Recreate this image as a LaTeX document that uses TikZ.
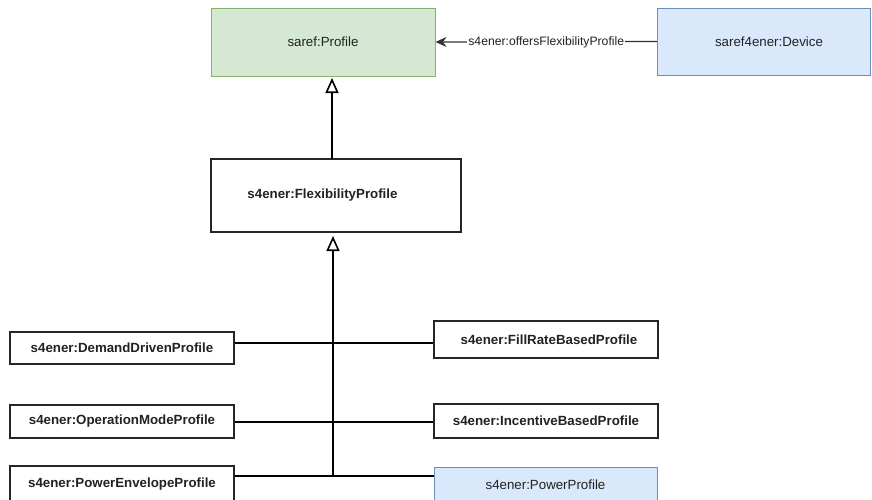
\documentclass[tikz,border=0pt]{standalone}
\usepackage{fontspec}
\setmainfont{Liberation Sans}
\usetikzlibrary{arrows.meta}
\definecolor{gfill}{HTML}{D5E8D4}
\definecolor{gline}{HTML}{82B366}
\definecolor{bfill}{HTML}{DAE8FC}
\definecolor{bline}{HTML}{6C8EBF}
\definecolor{txt}{HTML}{222222}
\tikzset{
  box/.style={draw, rectangle, inner sep=0pt, text=txt, font=\fontsize{13.3}{15}\selectfont},
  greenbox/.style={box, fill=gfill, draw=gline, line width=1pt},
  bluebox/.style={box, fill=bfill, draw=bline, line width=1pt},
  whitebox/.style={box, fill=white, draw=black!85, line width=2pt, font=\fontsize{13.3}{15}\selectfont\bfseries},
  gen/.style={draw=black, line width=2pt, -{Triangle[open, width=13pt, length=15pt, line width=1.6pt]}},
  tree/.style={draw=black, line width=2pt},
  lbl/.style={fill=white, inner sep=1pt, text=txt, font=\fontsize{12.2}{14}\selectfont},
}
\begin{document}
\begin{tikzpicture}[x=1pt, y=-1pt]
\useasboundingbox (0,0) rectangle (872,499);
\node[greenbox, minimum width=224pt, minimum height=68pt] (profile) at (323,42) {saref:Profile};
\node[bluebox, minimum width=213pt, minimum height=67pt] (device) at (764,41.5) {\hspace*{10pt}saref4ener:Device};
\node[whitebox, minimum width=250pt, minimum height=73pt] (flex) at (336,195.5) {\hspace*{-27pt}s4ener:FlexibilityProfile};
\node[whitebox, minimum width=224pt, minimum height=32pt] (dd) at (122,348) {s4ener:DemandDrivenProfile};
\node[whitebox, minimum width=224pt, minimum height=33pt] (om) at (122,421.5) {s4ener:OperationModeProfile};
\node[whitebox, minimum width=224pt, minimum height=36pt] (pe) at (122,484) {s4ener:PowerEnvelopeProfile};
\node[whitebox, minimum width=224pt, minimum height=37pt] (fr) at (546,339.5) {\hspace*{6pt}s4ener:FillRateBasedProfile};
\node[whitebox, minimum width=224pt, minimum height=34pt] (ib) at (546,421) {s4ener:IncentiveBasedProfile};
\node[bluebox, minimum width=223pt, minimum height=36pt] (pp) at (545.5,485) {s4ener:PowerProfile};
\coordinate (j1) at (333,343);
\coordinate (j2) at (333,422);
\coordinate (j3) at (333,476);
\coordinate (t1) at (332,159);
\coordinate (t2) at (332,78);
\draw[gen] (t1) -- (t2);
\draw[gen, shorten >=3pt] (j3) -- (j3 |- flex.south);
\draw[tree] (dd.east |- j1) -- (j1) -- (fr.west |- j1);
\draw[tree] (om.east |- j2) -- (j2) -- (ib.west |- j2);
\draw[tree] (pe.east |- j3) -- (j3) -- (pp.west |- j3);
\draw[draw=black!80, line width=1.2pt, -{Stealth[length=11pt, width=10pt]}] (device.west) -- node[lbl, yshift=-1pt] {s4ener:offersFlexibilityProfile} (profile.east);
\end{tikzpicture}
\end{document}
